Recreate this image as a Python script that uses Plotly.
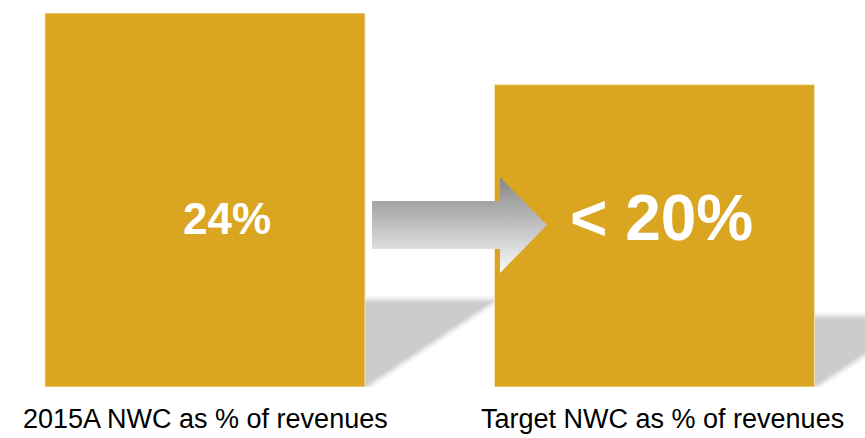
import plotly.graph_objects as go

# ---- data ----
categories = ["2015A NWC as % of revenues", "Target NWC as % of revenues"]
values = [24, 19.4]
value_labels = ["24%", "< 20%"]

BAR_COLOR = "#DAA520"
W, H = 865, 438
M_T, M_B = 13, 51
X_RANGE = [-0.45606, 1.46830]
Y_RANGE = [0, 24]
BAR_W = 0.7119

plot_h = H - M_T - M_B
px_per_x = W / (X_RANGE[1] - X_RANGE[0])
px_per_y = plot_h / (Y_RANGE[1] - Y_RANGE[0])


def px_x(p):
    return X_RANGE[0] + p / px_per_x


def px_y(p):
    return Y_RANGE[0] + (H - M_B - p) / px_per_y


xs = list(range(len(categories)))

fig = go.Figure()
fig.add_trace(go.Bar(
    x=xs, y=values, width=BAR_W,
    marker=dict(color=BAR_COLOR, line=dict(color="#F3E2B3", width=1)),
    hoverinfo="skip", showlegend=False,
))

# arrow (decoration) with vertical gradient
ax = [372, 500, 500, 547, 500, 500, 372, 372]
ay = [201, 201, 177, 225, 273, 249, 249, 201]
fig.add_trace(go.Scatter(
    x=[px_x(p) for p in ax], y=[px_y(p) for p in ay],
    mode="lines", line=dict(width=0), fill="toself",
    fillgradient=dict(type="vertical",
                      colorscale=[[0, "#fbfbfb"], [1, "#868686"]]),
    hoverinfo="skip", showlegend=False,
))

shapes = []
for i, v in enumerate(values):
    xr = xs[i] + BAR_W / 2
    h = v * 0.227
    L = v / 24 * 125 / px_per_x
    path = f"M {xr},{0.1} L {xr},{h} L {xr + L},{h} Z"
    for lw, col in [(12, "rgba(204,204,204,0.15)"), (8, "rgba(204,204,204,0.3)"),
                    (4, "rgba(204,204,204,0.55)")]:
        shapes.append(dict(type="path", path=path, layer="below",
                           fillcolor="rgba(0,0,0,0)", line=dict(color=col, width=lw)))
    shapes.append(dict(type="path", path=path, layer="below",
                       fillcolor="#cccccc", line=dict(width=0)))

annotations = []
val_shift = [21.5, 6.5]
font_sizes = [44, 64]
for i, (lab, v) in enumerate(zip(value_labels, values)):
    annotations.append(dict(
        x=xs[i], y=(H - M_B - 218) / plot_h, xref="x", yref="paper",
        text=f"<b>{lab}</b>", showarrow=False, xshift=val_shift[i],
        xanchor="center", yanchor="middle",
        font=dict(family="Arial, Liberation Sans", size=font_sizes[i], color="white"),
    ))
cat_shift = [0, 7.5]
for i, c in enumerate(categories):
    annotations.append(dict(
        x=xs[i], y=0, xref="x", yref="paper", text=c, showarrow=False,
        xshift=cat_shift[i], yshift=-16, xanchor="center", yanchor="top",
        borderpad=0,
        font=dict(family="Arial, Liberation Sans", size=27, color="black"),
    ))

fig.update_layout(
    width=W, height=H,
    margin=dict(l=0, r=0, t=M_T, b=M_B, pad=0),
    paper_bgcolor="white", plot_bgcolor="white",
    xaxis=dict(range=X_RANGE, visible=False, fixedrange=True),
    yaxis=dict(range=Y_RANGE, visible=False, fixedrange=True),
    shapes=shapes, annotations=annotations,
    showlegend=False,
)

fig.write_html("out.html", config={"displayModeBar": False},
               post_script="document.body.style.margin='0';document.body.style.overflow='hidden';")
